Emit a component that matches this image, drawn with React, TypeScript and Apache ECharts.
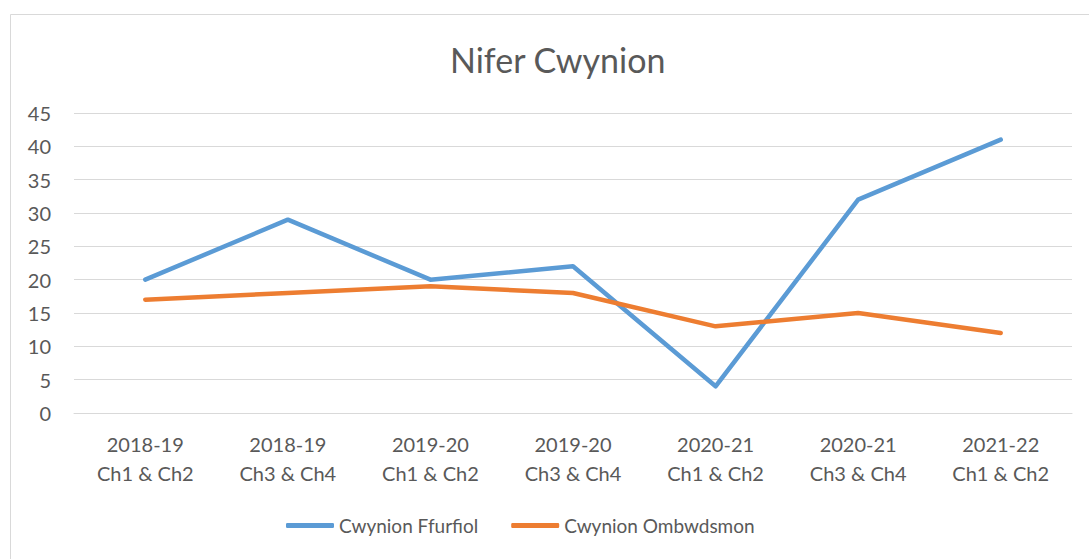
import React, { useEffect, useRef } from "react";
import * as echarts from "echarts";

const categories = [
  "2018-19\nCh1 & Ch2",
  "2018-19\nCh3 & Ch4",
  "2019-20\nCh1 & Ch2",
  "2019-20\nCh3 & Ch4",
  "2020-21\nCh1 & Ch2",
  "2020-21\nCh3 & Ch4",
  "2021-22\nCh1 & Ch2",
];
const ffurfiol = [20, 29, 20, 22, 4, 32, 41];
const ombwdsmon = [17, 18, 19, 18, 13, 15, 12];
const seriesNames = ["Cwynion Ffurfiol", "Cwynion Ombwdsmon"];

const FONT = "Lato, 'Open Sans', sans-serif";
const TXT = "#595959";

export default function App() {
  const ref = useRef<HTMLDivElement>(null);
  useEffect(() => {
    document.body.style.margin = "0";
    const chart = echarts.init(ref.current!, null, { renderer: "svg" });
    chart.setOption({
      animation: false,
      backgroundColor: "#ffffff",
      graphic: [
        {
          type: "rect",
          shape: { x: 10.5, y: 14.5, width: 1200, height: 700 },
          style: { fill: "none", stroke: "#D9D9D9", lineWidth: 1 },
          silent: true,
        },
      ],
      title: {
        text: "Nifer Cwynion",
        left: 445,
        top: 37,
        textStyle: { fontFamily: FONT, fontSize: 34, fontWeight: "normal", color: TXT },
      },
      legend: {
        data: seriesNames,
        bottom: 19,
        left: 281,
        icon: "roundRect",
        itemWidth: 48,
        itemHeight: 5,
        itemGap: 33,
        textStyle: { fontFamily: FONT, fontSize: 19, color: TXT },
      },
      grid: { left: 74, right: 17, top: 113, bottom: 146, containLabel: false },
      xAxis: {
        type: "category",
        data: categories,
        boundaryGap: true,
        axisLine: { show: true, lineStyle: { color: "#D9D9D9", width: 1 } },
        axisTick: { show: false },
        axisLabel: {
          fontFamily: FONT,
          fontSize: 20,
          color: TXT,
          lineHeight: 29,
          margin: 16,
          interval: 0,
        },
      },
      yAxis: {
        type: "value",
        min: 0,
        max: 45,
        interval: 5,
        axisLine: { show: false },
        axisTick: { show: false },
        splitLine: { lineStyle: { color: "#D9D9D9", width: 1 } },
        axisLabel: { fontFamily: FONT, fontSize: 20, color: TXT, margin: 23 },
      },
      series: [
        {
          name: seriesNames[0],
          type: "line",
          data: ffurfiol,
          showSymbol: false,
          symbol: "none",
          lineStyle: { color: "#5B9BD5", width: 4.5, cap: "round", join: "round" },
          itemStyle: { color: "#5B9BD5" },
        },
        {
          name: seriesNames[1],
          type: "line",
          data: ombwdsmon,
          showSymbol: false,
          symbol: "none",
          lineStyle: { color: "#ED7D31", width: 4.5, cap: "round", join: "round" },
          itemStyle: { color: "#ED7D31" },
        },
      ],
    });
    return () => chart.dispose();
  }, []);
  return <div ref={ref} style={{ width: 1089, height: 559 }} />;
}
